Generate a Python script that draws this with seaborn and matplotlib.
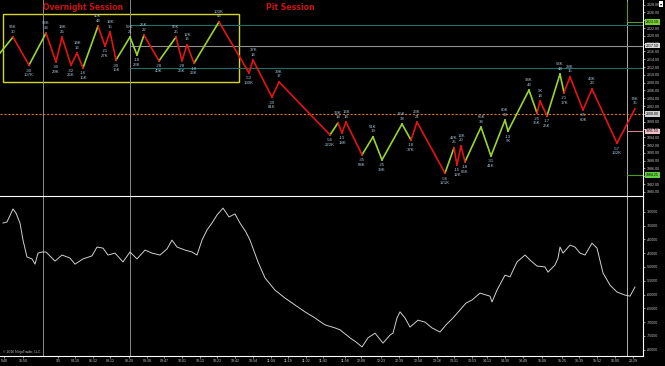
import numpy as np
import pandas as pd
import matplotlib
matplotlib.use("Agg")
import matplotlib.pyplot as plt
from matplotlib.patches import Rectangle
import seaborn as sns

sns.set_style({"axes.facecolor": "black", "figure.facecolor": "black", "axes.grid": False})
plt.rcParams["font.family"] = ["Liberation Sans", "DejaVu Sans"]

# zigzag swing pivots (bar number, price) and their labels
piv_x = [0, 13, 29, 46, 56, 62, 71, 77, 83, 98, 105, 110, 116, 130, 137, 144, 159, 176, 182, 187,
         194, 219, 249, 253, 272, 279, 330, 338, 342, 346, 362, 373, 382, 402, 411, 417, 445, 454,
         457, 461, 465, 481, 491, 505, 508, 529, 537, 540, 547, 560, 564, 570, 583, 592, 617, 635]
piv_p = [2015.6, 2019.7, 2012.5, 2020.7, 2013.3, 2019.7, 2012.5, 2015.6, 2011.8, 2022.5, 2017.4,
         2021.0, 2013.8, 2019.7, 2015.1, 2020.2, 2013.6, 2019.7, 2013.6, 2017.7, 2013.0, 2023.6,
         2010.5, 2013.8, 2004.3, 2008.2, 1994.6, 1997.7, 1995.1, 1997.9, 1989.5, 1994.1, 1988.2,
         1997.4, 1993.3, 1997.9, 1984.8, 1991.3, 1986.9, 1991.8, 1987.7, 1996.6, 1989.2, 1998.4,
         1995.6, 2006.1, 2000.2, 2003.3, 1999.5, 2010.2, 2005.4, 2009.5, 2001.0, 2006.4, 1992.5,
         2001.3]
piv_ticks = ["", "30", "-30", "33", "-30", "26", "-32", "16", "-16", "44", "-21", "15", "-30", "21",
             "-18", "22", "-28", "25", "-28", "16", "-18", "43", "-53", "14", "-39", "17", "-56",
             "14", "-13", "14", "-35", "19", "-25", "38", "-18", "21", "-56", "25", "-15", "20",
             "-18", "38", "-31", "38", "-13", "43", "-25", "14", "-17", "44", "-21", "15", "-35",
             "23", "-57", "35"]
piv_vol = ["", "96K", "107K", "93K", "29K", "18K", "26K", "14K", "15K", "40K", "27K", "18K", "15K",
           "59K", "23K", "25K", "40K", "55K", "25K", "12K", "23K", "103K", "130K", "17K", "81K",
           "39K", "222K", "33K", "18K", "16K", "68K", "51K", "39K", "65K", "37K", "23K", "121K",
           "42K", "12K", "13K", "66K", "65K", "41K", "80K", "9K", "94K", "35K", "9K", "25K", "58K",
           "17K", "28K", "60K", "43K", "132K", "74K"]
# trend state of each swing leg (g = up trend, r = down trend)
leg_trend = "grgrrrrrgrrrgggrgrrrgrrrrrgrrrggggrrgrrrggggggrrggrrrrr"

# key price levels
levels_teal = [2022.75, 2011.75]
level_gray = 2017.50
level_orange = 2000.00
marker_levels = [2023.50, 2017.50, 2000.00, 1995.50, 1984.25]

# lower panel indicator (bar number, value in thousands)
low_x = [3, 7, 13, 16, 20, 23, 27, 32, 35, 38, 42, 46, 55, 62, 70, 75, 83, 92, 97, 103, 108, 115,
         123, 130, 137, 145, 152, 160, 167, 172, 177, 185, 192, 197, 202, 207, 212, 217, 223, 229,
         235, 240, 246, 250, 258, 265, 275, 285, 295, 305, 315, 325, 335, 340, 350, 356, 362, 368,
         375, 383, 390, 393, 397, 400, 405, 410, 418, 425, 432, 440, 446, 453, 460, 466, 472, 480,
         490, 492, 497, 505, 510, 517, 525, 530, 537, 545, 548, 555, 558, 560, 563, 570, 575, 580,
         585, 592, 597, 603, 610, 617, 625, 630, 635]
low_v = [-34.1, -33.7, -29.0, -30.5, -34.1, -40.3, -46.4, -47.1, -49.0, -45.0, -44.6, -44.6, -47.9,
         -45.7, -46.8, -49.0, -47.1, -46.0, -42.8, -43.2, -45.7, -45.0, -48.2, -44.6, -47.1, -43.9,
         -45.0, -45.7, -43.5, -40.3, -42.8, -43.9, -44.6, -45.7, -40.3, -36.6, -34.1, -31.2, -28.7,
         -31.9, -30.8, -34.1, -37.4, -40.3, -48.2, -54.0, -58.4, -61.3, -63.8, -66.3, -68.5, -71.0,
         -72.1, -72.8, -75.7, -77.2, -79.0, -75.7, -74.0, -77.6, -74.7, -74.0, -68.5, -66.3, -68.5,
         -71.8, -69.3, -70.0, -72.1, -73.6, -71.0, -68.5, -65.6, -63.1, -62.0, -59.5, -60.6, -62.7,
         -58.4, -53.0, -53.6, -48.2, -45.7, -47.5, -49.7, -50.0, -51.9, -49.3, -46.8, -42.8, -45.0,
         -42.1, -42.8, -45.0, -45.7, -41.4, -43.2, -52.2, -56.6, -59.1, -60.2, -60.6, -57.3]

time_pos = [4, 23, 58, 75, 93, 110, 129, 147, 164, 182, 200, 217, 235, 253, 271, 288, 306, 323,
            345, 361, 381, 399, 418, 437, 454, 472, 487, 505, 523, 542, 562, 579, 597, 615, 633]
time_lab = ["5:40", "15:50", "1/5", "04:10", "06:32", "08:12", "08:20", "09:30", "09:47", "10:01",
            "10:12", "10:23", "10:42", "10:54", "11:04", "11:19", "11:32", "11:43", "11:58", "12:08",
            "12:23", "12:39", "12:58", "13:16", "13:31", "13:53", "14:13", "14:30", "14:49", "15:08",
            "15:25", "15:39", "15:52", "16:00", "20:29"]

GREEN = "#9ad62a"
RED = "#e41414"
LABEL = "#a8c8dc"
AXTXT = "#c8c8c8"

W, H = 665, 366
fig = plt.figure(figsize=(W / 100, H / 100), dpi=100)
ax1 = fig.add_axes([0, 1 - 196 / H, 643 / W, 196 / H])
ax2 = fig.add_axes([0, 1 - 356 / H, 643 / W, 160 / H])

rows = []
for i in range(len(piv_x) - 1):
    tr = "up" if leg_trend[i] == "g" else "down"
    rows.append((piv_x[i], piv_p[i], i, tr))
    rows.append((piv_x[i + 1], piv_p[i + 1], i, tr))
legs = pd.DataFrame(rows, columns=["bar", "price", "leg", "trend"])

# session / level lines
for ax in (ax1, ax2):
    for xv in (43, 130):
        ax.axvline(xv, color="#8a8a8a", lw=0.7)
    ax.axvline(627, color="#b0b0b0", lw=0.7)

for lv in levels_teal:
    ax1.plot([130, 643], [lv, lv], color="#1f6f6a", lw=0.8)
ax1.plot([130, 643], [level_gray, level_gray], color="#909090", lw=0.8)
ax1.axhline(level_orange, color="#e07010", lw=0.8, ls=(0, (2, 1.5)))
ax1.plot([627, 627, 643], [2028.75, marker_levels[0], marker_levels[0]], color="#5a9a20", lw=0.8)
ax1.plot([627, 643], [marker_levels[3]] * 2, color="#d08090", lw=0.8)
ax1.plot([627, 643], [marker_levels[4]] * 2, color="#4a9a20", lw=0.8)

sns.lineplot(data=legs, x="bar", y="price", units="leg", hue="trend", estimator=None, sort=False,
             palette={"up": GREEN, "down": RED}, legend=False, lw=1.2, ax=ax1)

for i in range(1, len(piv_x)):
    is_peak = (i == len(piv_x) - 1) or piv_p[i] > piv_p[i + 1]
    if is_peak:
        txt, off, va = f"{piv_vol[i]}\n{piv_ticks[i]}", 2.5, "bottom"
    else:
        txt, off, va = f"{piv_ticks[i]}\n{piv_vol[i]}", -2.5, "top"
    ax1.annotate(txt, (piv_x[i], piv_p[i]), xytext=(0, off), textcoords="offset points",
                 ha="center", va=va, fontsize=3.1, color=LABEL, linespacing=1.15)

ax1.add_patch(Rectangle((3, 2008.2), 236, 17.4, fill=False, edgecolor="#d8d820", lw=1.0))
ax1.text(43, 2027.3, "Overnight Session", color="#d01010", fontsize=5.6, fontweight="bold",
         family="DejaVu Sans", va="center", ha="left")
ax1.text(266, 2027.3, "Pit Session", color="#d01010", fontsize=5.6, fontweight="bold",
         family="DejaVu Sans", va="center", ha="left")

ax1.set_xlim(0, 643)
ax1.set_ylim(2029.2 - 196 / 3.9, 2029.2)
ax1.yaxis.tick_right()
ax1.set_yticks(np.arange(1980, 2029, 2))
ax1.set_yticklabels([f"{v:.2f}" for v in np.arange(1980, 2029, 2)])
ax1.set_xticks([])

for val, bg in zip(marker_levels, ["#78d030", "#d8d8d8", "#d0d0d0", "#f4c0c8", "#60d040"]):
    ax1.text(646, val, f"{val:.2f}", fontsize=2.5, color="black", va="center", ha="left",
             clip_on=False, zorder=5,
             bbox=dict(boxstyle="square,pad=0.25", fc=bg, ec="none"))

sns.lineplot(x=low_x, y=np.array(low_v) * 1000, color="#d0d0d0", lw=0.7, estimator=None,
             sort=False, ax=ax2)
ax2.set_xlim(0, 643)
ax2.set_ylim(-82280, -24310)
ax2.yaxis.tick_right()
ax2.set_yticks(np.arange(-80000, -29999, 5000))
ax2.set_yticklabels([f"{v}" for v in np.arange(-80000, -29999, 5000)])
ax2.set_xticks(time_pos)
ax2.set_xticklabels(time_lab)
ax2.text(3, -80700, "© 2016 NinjaTrader, LLC", fontsize=2.4, color=AXTXT, va="center")

for ax in (ax1, ax2):
    ax.set_xlabel("")
    ax.set_ylabel("")
    for s in ("left", "top", "bottom"):
        ax.spines[s].set_visible(False)
    ax.spines["right"].set_visible(True)
    ax.spines["right"].set_color("white")
    ax.spines["right"].set_linewidth(0.8)
    ax.tick_params(colors=AXTXT, labelsize=2.6, length=1.5, width=0.5, pad=1)
for s in ("top", "bottom"):
    ax2.spines[s].set_visible(True)
    ax2.spines[s].set_color("white")
    ax2.spines[s].set_linewidth(0.8)

fig.text(661 / W, 1 - 4 / H, "▾", fontsize=3, color="black", ha="center", va="center",
         family="DejaVu Sans", bbox=dict(boxstyle="square,pad=0.25", fc="white", ec="none"))

fig.savefig("out.png", dpi=100, facecolor="black")
